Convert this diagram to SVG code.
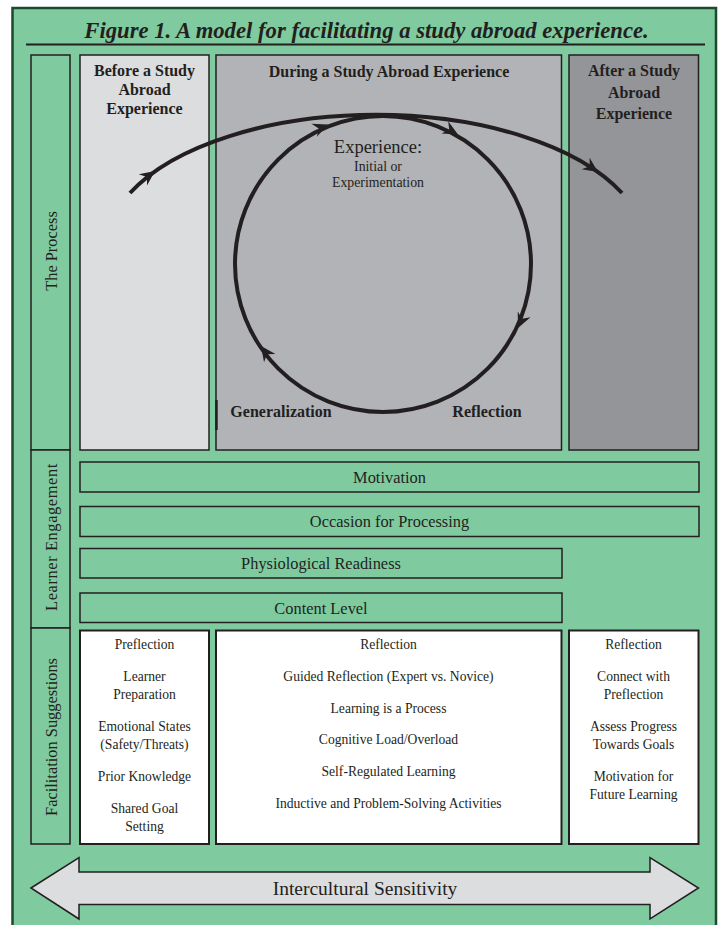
<svg xmlns="http://www.w3.org/2000/svg" width="721" height="925" viewBox="0 0 721 925">
<style>
.t{font-family:"Liberation Serif","Times New Roman",serif;fill:#231f20;text-anchor:middle}
.b{font-weight:bold;font-size:16px}
.s{font-size:13.6px}
.m{font-size:16.4px}
.g{fill:#7fcb9f;stroke:#231f20;stroke-width:1.5}
.w{fill:#ffffff;stroke:#231f20;stroke-width:2}
.ln{fill:none;stroke:#231f20;stroke-width:4}
</style>
<defs>
<path id="ah" d="M0,0 L-15,-7 L-10,0 L-15,7 Z" fill="#231f20"/>
</defs>
<rect x="0" y="0" width="721" height="925" fill="#ffffff"/>
<rect x="12.5" y="8" width="703.5" height="930" fill="#7fcb9f" stroke="#1b4a2c" stroke-width="2.5"/>
<g id="title">
<text class="t" x="366.5" y="37.5" font-size="22.7" font-weight="bold" font-style="italic">Figure 1. A model for facilitating a study abroad experience.</text>
<line x1="26" y1="44.5" x2="705" y2="44.5" stroke="#231f20" stroke-width="2"/>
</g>
<g id="label-process">
<rect class="g" x="31" y="55" width="39" height="395"/>
<text class="t m" transform="translate(57,251) rotate(-90)">The Process</text>
</g>
<g id="label-engagement">
<rect class="g" x="31" y="450" width="39" height="178"/>
<text class="t m" letter-spacing="0.6" transform="translate(57,537) rotate(-90)">Learner Engagement</text>
</g>
<g id="label-facilitation">
<rect class="g" x="31" y="628" width="39" height="216"/>
<text class="t m" transform="translate(57,737) rotate(-90)">Facilitation Suggestions</text>
</g>
<g id="before">
<rect x="80" y="55" width="129" height="395" fill="#dcdddf" stroke="#231f20" stroke-width="1.5"/>
<text class="t b" x="144.5" y="76">Before a Study</text>
<text class="t b" x="144.5" y="95">Abroad</text>
<text class="t b" x="144.5" y="113.5">Experience</text>
</g>
<g id="during">
<rect x="216" y="55" width="345.5" height="395" fill="#b1b3b6" stroke="#231f20" stroke-width="1.5"/>
<line x1="216.5" y1="400" x2="216.5" y2="430" stroke="#231f20" stroke-width="2.5"/>
<text class="t b" x="389" y="77">During a Study Abroad Experience</text>
</g>
<g id="after">
<rect x="569" y="55" width="129.5" height="395" fill="#939598" stroke="#231f20" stroke-width="1.5"/>
<text class="t b" x="634" y="76">After a Study</text>
<text class="t b" x="634" y="97.5">Abroad</text>
<text class="t b" x="634" y="119">Experience</text>
</g>
<g id="connectors">
<circle class="ln" cx="383" cy="264" r="148"/>
<path class="ln" d="M130,193 A270,133 0 0 1 622,193"/>
<use href="#ah" transform="translate(155,171) rotate(-36.2)"/>
<use href="#ah" transform="translate(598,172) rotate(34.3)"/>
<use href="#ah" transform="translate(328,124.5) rotate(-22.8)"/>
<use href="#ah" transform="translate(458,134.5) rotate(28.8)"/>
<use href="#ah" transform="translate(518,328) rotate(114)"/>
<use href="#ah" transform="translate(261,346) rotate(234.4)"/>
</g>
<g id="experience">
<text class="t" x="378" y="152.5" font-size="18.5">Experience:</text>
<text class="t" x="378" y="171" font-size="13.8">Initial or</text>
<text class="t" x="378" y="187" font-size="13.8">Experimentation</text>
</g>
<g id="generalization"><text class="t b" x="281" y="416.5">Generalization</text></g>
<g id="reflection-label"><text class="t b" x="487" y="416.5">Reflection</text></g>
<g id="motivation">
<rect class="g" x="80" y="462" width="619" height="30"/>
<text class="t m" x="389.5" y="482.5">Motivation</text>
</g>
<g id="occasion">
<rect class="g" x="80" y="506.5" width="619" height="30"/>
<text class="t m" x="389.5" y="527">Occasion for Processing</text>
</g>
<g id="physiological">
<rect class="g" x="80" y="548.5" width="482" height="29.5"/>
<text class="t m" x="321" y="569">Physiological Readiness</text>
</g>
<g id="content">
<rect class="g" x="80" y="593" width="482" height="29.5"/>
<text class="t m" x="321" y="613.5">Content Level</text>
</g>
<g id="fac-before">
<rect class="w" x="80" y="630.5" width="129" height="213.5"/>
<text class="t s" x="144.5" y="648.5">Preflection</text>
<text class="t s" x="144.5" y="681">Learner</text>
<text class="t s" x="144.5" y="698.5">Preparation</text>
<text class="t s" x="144.5" y="731">Emotional States</text>
<text class="t s" x="144.5" y="748.5">(Safety/Threats)</text>
<text class="t s" x="144.5" y="780.5">Prior Knowledge</text>
<text class="t s" x="144.5" y="813">Shared Goal</text>
<text class="t s" x="144.5" y="830.5">Setting</text>
</g>
<g id="fac-during">
<rect class="w" x="216" y="630.5" width="345.5" height="213.5"/>
<text class="t s" x="388.5" y="648.5">Reflection</text>
<text class="t s" x="388.5" y="681">Guided Reflection (Expert vs. Novice)</text>
<text class="t s" x="388.5" y="712.5">Learning is a Process</text>
<text class="t s" x="388.5" y="744">Cognitive Load/Overload</text>
<text class="t s" x="388.5" y="776">Self-Regulated Learning</text>
<text class="t s" x="388.5" y="807.5">Inductive and Problem-Solving Activities</text>
</g>
<g id="fac-after">
<rect class="w" x="569" y="630.5" width="129.5" height="213.5"/>
<text class="t s" x="633.5" y="648.5">Reflection</text>
<text class="t s" x="633.5" y="681">Connect with</text>
<text class="t s" x="633.5" y="698.5">Preflection</text>
<text class="t s" x="633.5" y="731">Assess Progress</text>
<text class="t s" x="633.5" y="748.5">Towards Goals</text>
<text class="t s" x="633.5" y="780.5">Motivation for</text>
<text class="t s" x="633.5" y="798.5">Future Learning</text>
</g>
<g id="intercultural">
<path d="M31,888 L79,857.5 L79,872 L650,872 L650,857.5 L698.5,888 L650,919 L650,904.5 L79,904.5 L79,919 Z" fill="#dcdddf" stroke="#231f20" stroke-width="1.5" stroke-linejoin="miter"/>
<text class="t" x="365" y="895" font-size="19.5">Intercultural Sensitivity</text>
</g>
</svg>
